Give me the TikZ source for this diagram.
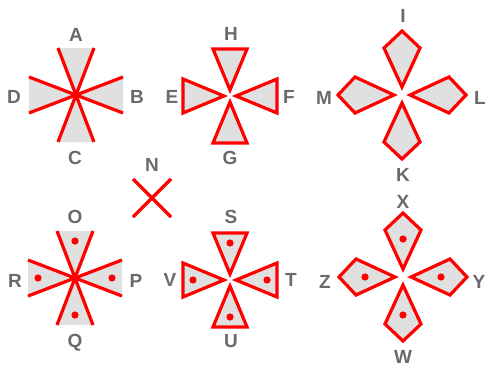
\documentclass[tikz,border=0pt]{standalone}
\usepackage{fontspec}
\setmainfont{Liberation Sans}
\usepackage{tikz}
\definecolor{markred}{HTML}{FF0000}
\definecolor{markgray}{HTML}{E0E0E0}
\definecolor{labelgray}{HTML}{6A6A6A}

\begin{document}
\begin{tikzpicture}[x=1pt, y=-1pt,
    lbl/.style={font=\fontsize{19}{19}\selectfont\bfseries, text=labelgray,
                inner sep=0pt, text height=13.6pt, text depth=0pt},
    redline/.style={draw=markred, line width=3.2pt, line join=miter},
    petal/.style={fill=markgray},
]
    \useasboundingbox (0,0) rectangle (486,369);

    % open wedges
    \foreach \cx/\cy/\dots in {76/95/0, 75/278/1} {
      \begin{scope}[shift={(\cx,\cy)}]
        \foreach \r in {0,90,180,270} {
          \fill[petal, rotate=\r] (0,0) -- (47,-18) -- (47,18) -- cycle;
          \draw[redline, rotate=\r] (47,-18) -- (0,0) -- (47,18);
          \ifnum\dots=1 \fill[markred, rotate=\r] (37,0) circle (3.6pt); \fi
        }
      \end{scope}
    }

    % closed triangles
    \foreach \cx/\cy/\dots in {230/96/0, 230/280/1} {
      \begin{scope}[shift={(\cx,\cy)}]
        \foreach \r in {0,90,180,270} {
          \filldraw[petal, redline, rotate=\r] (6,0) -- (47,-17) -- (47,17) -- cycle;
          \ifnum\dots=1 \fill[markred, rotate=\r] (37,0) circle (3.6pt); \fi
        }
      \end{scope}
    }

    % kites
    \foreach \cx/\cy/\dots in {402/95/0, 403/277/1} {
      \begin{scope}[shift={(\cx,\cy)}]
        \foreach \r in {0,90,180,270} {
          \filldraw[petal, redline, rotate=\r] (8,0) -- (47,-18) -- (64,0) -- (47,18) -- cycle;
          \ifnum\dots=1 \fill[markred, rotate=\r] (38,0) circle (3.6pt); \fi
        }
      \end{scope}
    }

    % cross
    \draw[redline] (133,179) -- (171,217) (171,179) -- (133,217);

    \foreach \t/\x/\y in {A/76/35, B/137/97, C/75/158, D/14/97, E/172/97, F/289/97,
                          G/230/158, H/231/34, I/403/16, K/403/175, L/480/98, M/324/98,
                          N/152/165, O/75/217, P/136/281, Q/75/341, R/15/281,
                          S/231/217, T/291/280, U/231/341, V/170/280,
                          W/403/357, X/403/202, Y/479/282, Z/325/282}
      \node[lbl] (l\t) at (\x,\y) {\t};
\end{tikzpicture}
\end{document}
